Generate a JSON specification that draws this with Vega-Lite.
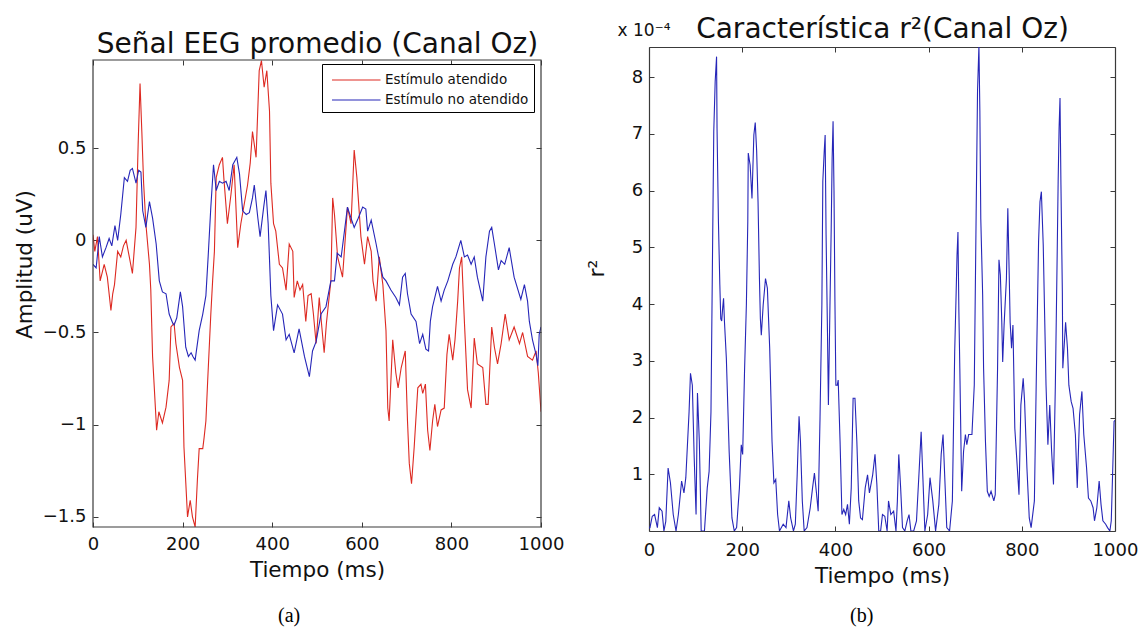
{
  "$schema": "https://vega.github.io/schema/vega-lite/v6.json",
  "background": "white",
  "padding": {"left": 14, "top": 15, "right": 5, "bottom": 5},
  "spacing": 21,
  "bounds": "full",
  "datasets": {
    "rojo": [
      {"t":0,"v":0.03},{"t":4,"v":-0.06},{"t":10,"v":0.02},{"t":16,"v":-0.22},{"t":25,"v":-0.13},{"t":32,"v":-0.2},{"t":40,"v":-0.38},{"t":44,"v":-0.29},{"t":48,"v":-0.24},{"t":55,"v":-0.06},{"t":62,"v":-0.09},{"t":68,"v":-0.03},{"t":74,"v":0.0},{"t":81,"v":-0.09},{"t":88,"v":-0.18},{"t":96,"v":0.07},{"t":101,"v":0.54},{"t":105,"v":0.85},{"t":109,"v":0.59},{"t":113,"v":0.31},{"t":118,"v":0.09},{"t":126,"v":-0.13},{"t":129,"v":-0.27},{"t":133,"v":-0.63},{"t":142,"v":-1.03},{"t":147,"v":-0.93},{"t":155,"v":-0.99},{"t":163,"v":-0.905},{"t":170,"v":-0.76},{"t":174,"v":-0.47},{"t":181,"v":-0.45},{"t":185,"v":-0.56},{"t":193,"v":-0.69},{"t":200,"v":-0.76},{"t":203,"v":-1.12},{"t":211,"v":-1.5},{"t":217,"v":-1.41},{"t":222,"v":-1.5},{"t":228,"v":-1.555},{"t":233,"v":-1.3},{"t":237,"v":-1.13},{"t":245,"v":-1.13},{"t":248,"v":-1.07},{"t":252,"v":-0.98},{"t":256,"v":-0.76},{"t":263,"v":-0.4},{"t":267,"v":-0.22},{"t":271,"v":-0.06},{"t":275,"v":0.34},{"t":282,"v":0.41},{"t":289,"v":0.45},{"t":292,"v":0.34},{"t":300,"v":0.09},{"t":308,"v":0.25},{"t":315,"v":0.41},{"t":323,"v":-0.04},{"t":330,"v":0.09},{"t":345,"v":0.3},{"t":351,"v":0.42},{"t":356,"v":0.59},{"t":364,"v":0.45},{"t":371,"v":0.92},{"t":376,"v":0.975},{"t":382,"v":0.83},{"t":388,"v":0.92},{"t":394,"v":0.7},{"t":397,"v":0.31},{"t":403,"v":0.09},{"t":408,"v":0.05},{"t":416,"v":-0.13},{"t":423,"v":-0.15},{"t":431,"v":-0.27},{"t":438,"v":-0.02},{"t":446,"v":-0.06},{"t":449,"v":-0.31},{"t":456,"v":-0.22},{"t":462,"v":-0.27},{"t":468,"v":-0.24},{"t":475,"v":-0.44},{"t":480,"v":-0.3},{"t":487,"v":-0.29},{"t":492,"v":-0.4},{"t":498,"v":-0.56},{"t":505,"v":-0.31},{"t":510,"v":-0.45},{"t":516,"v":-0.61},{"t":521,"v":-0.45},{"t":527,"v":-0.31},{"t":531,"v":-0.22},{"t":535,"v":0.23},{"t":539,"v":0.14},{"t":546,"v":-0.09},{"t":557,"v":-0.2},{"t":568,"v":0.18},{"t":576,"v":0.09},{"t":583,"v":0.49},{"t":589,"v":0.34},{"t":598,"v":0.02},{"t":606,"v":-0.13},{"t":613,"v":0.02},{"t":621,"v":-0.06},{"t":625,"v":-0.22},{"t":632,"v":-0.33},{"t":639,"v":-0.09},{"t":647,"v":-0.24},{"t":654,"v":-0.49},{"t":658,"v":-0.91},{"t":661,"v":-0.98},{"t":669,"v":-0.54},{"t":676,"v":-0.72},{"t":681,"v":-0.8},{"t":688,"v":-0.69},{"t":697,"v":-0.6},{"t":702,"v":-0.98},{"t":706,"v":-1.21},{"t":711,"v":-1.32},{"t":717,"v":-1.12},{"t":725,"v":-0.8},{"t":732,"v":-0.78},{"t":736,"v":-0.83},{"t":742,"v":-0.78},{"t":747,"v":-1.03},{"t":752,"v":-1.14},{"t":758,"v":-0.98},{"t":763,"v":-0.89},{"t":769,"v":-1.01},{"t":777,"v":-0.92},{"t":784,"v":-0.91},{"t":790,"v":-0.62},{"t":795,"v":-0.51},{"t":803,"v":-0.65},{"t":808,"v":-0.54},{"t":814,"v":-0.33},{"t":818,"v":-0.15},{"t":823,"v":-0.09},{"t":829,"v":-0.44},{"t":836,"v":-0.81},{"t":844,"v":-0.91},{"t":851,"v":-0.53},{"t":858,"v":-0.67},{"t":870,"v":-0.69},{"t":877,"v":-0.89},{"t":882,"v":-0.89},{"t":890,"v":-0.47},{"t":896,"v":-0.58},{"t":903,"v":-0.67},{"t":911,"v":-0.56},{"t":920,"v":-0.4},{"t":929,"v":-0.54},{"t":940,"v":-0.47},{"t":952,"v":-0.56},{"t":959,"v":-0.5},{"t":970,"v":-0.63},{"t":981,"v":-0.65},{"t":989,"v":-0.6},{"t":994,"v":-0.72},{"t":1000,"v":-0.93}
    ],
    "azul": [
      {"t":0,"v":-0.13},{"t":7,"v":-0.15},{"t":14,"v":0.02},{"t":21,"v":-0.09},{"t":29,"v":-0.04},{"t":36,"v":0.01},{"t":42,"v":-0.03},{"t":49,"v":0.08},{"t":55,"v":0.0},{"t":62,"v":0.14},{"t":70,"v":0.34},{"t":77,"v":0.32},{"t":83,"v":0.38},{"t":88,"v":0.39},{"t":96,"v":0.31},{"t":102,"v":0.38},{"t":107,"v":0.37},{"t":111,"v":0.16},{"t":118,"v":0.07},{"t":126,"v":0.21},{"t":133,"v":0.12},{"t":141,"v":-0.02},{"t":148,"v":-0.22},{"t":155,"v":-0.28},{"t":163,"v":-0.29},{"t":170,"v":-0.4},{"t":178,"v":-0.45},{"t":181,"v":-0.46},{"t":187,"v":-0.42},{"t":195,"v":-0.28},{"t":200,"v":-0.36},{"t":207,"v":-0.58},{"t":213,"v":-0.63},{"t":219,"v":-0.61},{"t":223,"v":-0.63},{"t":228,"v":-0.65},{"t":237,"v":-0.49},{"t":245,"v":-0.4},{"t":252,"v":-0.3},{"t":257,"v":-0.09},{"t":263,"v":0.18},{"t":269,"v":0.41},{"t":275,"v":0.27},{"t":282,"v":0.32},{"t":289,"v":0.31},{"t":297,"v":0.32},{"t":304,"v":0.27},{"t":312,"v":0.41},{"t":321,"v":0.45},{"t":327,"v":0.36},{"t":334,"v":0.16},{"t":342,"v":0.14},{"t":349,"v":0.15},{"t":356,"v":0.23},{"t":360,"v":0.3},{"t":368,"v":0.12},{"t":373,"v":0.02},{"t":381,"v":0.18},{"t":386,"v":0.27},{"t":391,"v":0.09},{"t":397,"v":-0.3},{"t":403,"v":-0.49},{"t":412,"v":-0.35},{"t":423,"v":-0.4},{"t":431,"v":-0.54},{"t":438,"v":-0.51},{"t":449,"v":-0.61},{"t":460,"v":-0.48},{"t":472,"v":-0.63},{"t":483,"v":-0.74},{"t":490,"v":-0.6},{"t":498,"v":-0.55},{"t":509,"v":-0.4},{"t":520,"v":-0.36},{"t":531,"v":-0.22},{"t":539,"v":-0.22},{"t":545,"v":-0.07},{"t":554,"v":-0.09},{"t":568,"v":0.18},{"t":576,"v":0.12},{"t":583,"v":0.07},{"t":592,"v":0.12},{"t":602,"v":0.18},{"t":609,"v":0.17},{"t":613,"v":0.05},{"t":621,"v":0.11},{"t":632,"v":-0.02},{"t":639,"v":-0.11},{"t":647,"v":-0.2},{"t":654,"v":-0.22},{"t":665,"v":-0.27},{"t":676,"v":-0.31},{"t":684,"v":-0.35},{"t":691,"v":-0.2},{"t":697,"v":-0.18},{"t":702,"v":-0.29},{"t":710,"v":-0.4},{"t":721,"v":-0.44},{"t":729,"v":-0.56},{"t":736,"v":-0.51},{"t":743,"v":-0.59},{"t":749,"v":-0.6},{"t":753,"v":-0.44},{"t":758,"v":-0.36},{"t":769,"v":-0.25},{"t":777,"v":-0.33},{"t":784,"v":-0.27},{"t":792,"v":-0.22},{"t":803,"v":-0.13},{"t":810,"v":-0.09},{"t":821,"v":0.0},{"t":829,"v":-0.09},{"t":836,"v":-0.08},{"t":844,"v":-0.13},{"t":851,"v":-0.09},{"t":858,"v":-0.2},{"t":870,"v":-0.33},{"t":877,"v":-0.09},{"t":885,"v":0.05},{"t":890,"v":0.07},{"t":896,"v":-0.02},{"t":905,"v":-0.16},{"t":911,"v":-0.11},{"t":919,"v":-0.13},{"t":929,"v":-0.04},{"t":940,"v":-0.2},{"t":955,"v":-0.32},{"t":963,"v":-0.24},{"t":970,"v":-0.33},{"t":974,"v":-0.44},{"t":981,"v":-0.54},{"t":989,"v":-0.62},{"t":993,"v":-0.68},{"t":996,"v":-0.51},{"t":1000,"v":-0.47}
    ],
    "r2": [
      {"t":0,"v":0.05},{"t":2,"v":0.06},{"t":7,"v":0.26},{"t":12,"v":0.29},{"t":18,"v":0.06},{"t":22,"v":0.41},{"t":28,"v":0.35},{"t":32,"v":0},{"t":36,"v":0.17},{"t":41,"v":1.11},{"t":46,"v":0.85},{"t":52,"v":0.29},{"t":58,"v":0},{"t":63,"v":0.29},{"t":70,"v":0.88},{"t":75,"v":0.67},{"t":79,"v":0.94},{"t":86,"v":2.1},{"t":89,"v":2.78},{"t":93,"v":2.57},{"t":97,"v":1.29},{"t":101,"v":0.29},{"t":104,"v":2.43},{"t":108,"v":1.58},{"t":112,"v":0},{"t":119,"v":0},{"t":125,"v":0.76},{"t":129,"v":1.05},{"t":133,"v":2.1},{"t":136,"v":4.63},{"t":139,"v":7.04},{"t":142,"v":7.92},{"t":145,"v":8.36},{"t":146,"v":7.1},{"t":149,"v":5.45},{"t":152,"v":4.34},{"t":154,"v":3.74},{"t":156,"v":3.7},{"t":158,"v":3.92},{"t":160,"v":4.1},{"t":162,"v":3.68},{"t":166,"v":3.04},{"t":172,"v":1.4},{"t":178,"v":0.23},{"t":183,"v":0},{"t":188,"v":0.06},{"t":194,"v":0.76},{"t":198,"v":1.52},{"t":201,"v":1.35},{"t":205,"v":2.81},{"t":209,"v":4.0},{"t":212,"v":5.45},{"t":213,"v":6.66},{"t":217,"v":6.45},{"t":221,"v":5.86},{"t":225,"v":6.98},{"t":228,"v":7.2},{"t":231,"v":6.7},{"t":234,"v":5.8},{"t":237,"v":4.45},{"t":239,"v":3.74},{"t":241,"v":3.45},{"t":245,"v":3.98},{"t":250,"v":4.45},{"t":254,"v":4.28},{"t":259,"v":3.22},{"t":264,"v":1.58},{"t":268,"v":0.85},{"t":272,"v":0.91},{"t":276,"v":0.29},{"t":280,"v":0},{"t":288,"v":0.12},{"t":294,"v":0.06},{"t":300,"v":0.53},{"t":304,"v":0.23},{"t":310,"v":0},{"t":314,"v":0.12},{"t":318,"v":0.99},{"t":322,"v":2.02},{"t":325,"v":1.58},{"t":329,"v":0.53},{"t":333,"v":0},{"t":339,"v":0.06},{"t":346,"v":0.41},{"t":351,"v":0.76},{"t":355,"v":1.02},{"t":359,"v":0.7},{"t":363,"v":0.35},{"t":367,"v":1.99},{"t":371,"v":4.0},{"t":373,"v":6.16},{"t":376,"v":6.69},{"t":378,"v":6.98},{"t":380,"v":5.22},{"t":383,"v":3.5},{"t":385,"v":2.22},{"t":388,"v":3.8},{"t":391,"v":5.33},{"t":393,"v":6.57},{"t":395,"v":7.22},{"t":397,"v":6.0},{"t":399,"v":4.04},{"t":401,"v":2.57},{"t":404,"v":2.57},{"t":406,"v":2.66},{"t":410,"v":1.58},{"t":414,"v":0.29},{"t":418,"v":0.38},{"t":422,"v":0.29},{"t":426,"v":0.47},{"t":430,"v":0.12},{"t":434,"v":0.76},{"t":438,"v":2.34},{"t":442,"v":2.34},{"t":446,"v":1.58},{"t":450,"v":0.53},{"t":454,"v":0.23},{"t":458,"v":0.2},{"t":464,"v":0.76},{"t":469,"v":0.99},{"t":473,"v":0.67},{"t":480,"v":0.99},{"t":485,"v":1.35},{"t":489,"v":0.82},{"t":493,"v":0},{"t":497,"v":0},{"t":501,"v":0.29},{"t":506,"v":0.26},{"t":511,"v":0},{"t":514,"v":0.53},{"t":519,"v":0.29},{"t":525,"v":0.35},{"t":530,"v":0},{"t":533,"v":0.53},{"t":536,"v":1.35},{"t":540,"v":0.76},{"t":544,"v":0.06},{"t":549,"v":0},{"t":554,"v":0.18},{"t":558,"v":0.29},{"t":562,"v":0},{"t":568,"v":0},{"t":574,"v":0.18},{"t":580,"v":1.11},{"t":584,"v":1.75},{"t":588,"v":0.88},{"t":592,"v":0},{"t":598,"v":0.29},{"t":603,"v":0.94},{"t":609,"v":0.53},{"t":615,"v":0},{"t":622,"v":0.47},{"t":627,"v":1.35},{"t":631,"v":1.7},{"t":635,"v":0.88},{"t":639,"v":0.06},{"t":645,"v":0},{"t":651,"v":0.53},{"t":656,"v":3.16},{"t":659,"v":4.16},{"t":661,"v":4.86},{"t":663,"v":5.27},{"t":665,"v":3.86},{"t":667,"v":2.87},{"t":671,"v":0.7},{"t":675,"v":1.4},{"t":679,"v":1.7},{"t":682,"v":1.52},{"t":686,"v":1.7},{"t":693,"v":1.7},{"t":698,"v":2.57},{"t":702,"v":5.57},{"t":705,"v":7.75},{"t":708,"v":8.55},{"t":710,"v":7.4},{"t":712,"v":5.5},{"t":716,"v":4.16},{"t":718,"v":2.87},{"t":722,"v":1.58},{"t":726,"v":0.7},{"t":730,"v":0.61},{"t":734,"v":0.7},{"t":740,"v":0.53},{"t":743,"v":0.64},{"t":748,"v":2.87},{"t":751,"v":4.78},{"t":754,"v":4.51},{"t":757,"v":3.7},{"t":759,"v":2.98},{"t":762,"v":3.63},{"t":767,"v":4.45},{"t":770,"v":5.69},{"t":773,"v":4.51},{"t":775,"v":3.68},{"t":778,"v":3.22},{"t":781,"v":3.63},{"t":785,"v":1.81},{"t":789,"v":1.29},{"t":794,"v":0.64},{"t":798,"v":2.22},{"t":803,"v":2.69},{"t":806,"v":2.28},{"t":811,"v":1.11},{"t":816,"v":0.23},{"t":820,"v":0.06},{"t":827,"v":0.53},{"t":832,"v":3.16},{"t":836,"v":5.1},{"t":839,"v":5.8},{"t":842,"v":5.98},{"t":846,"v":5.04},{"t":849,"v":3.8},{"t":852,"v":2.57},{"t":856,"v":1.52},{"t":860,"v":2.22},{"t":864,"v":1.4},{"t":868,"v":0.82},{"t":872,"v":2.57},{"t":874,"v":3.74},{"t":876,"v":4.92},{"t":878,"v":6.16},{"t":880,"v":7.1},{"t":882,"v":7.63},{"t":884,"v":6.1},{"t":887,"v":4.22},{"t":888,"v":2.87},{"t":891,"v":3.27},{"t":894,"v":3.68},{"t":898,"v":3.22},{"t":901,"v":2.57},{"t":906,"v":2.28},{"t":910,"v":2.16},{"t":915,"v":1.7},{"t":919,"v":0.76},{"t":924,"v":2.05},{"t":929,"v":2.46},{"t":933,"v":1.7},{"t":939,"v":1.11},{"t":943,"v":0.58},{"t":948,"v":0.53},{"t":953,"v":0.41},{"t":956,"v":0.18},{"t":961,"v":0.41},{"t":966,"v":0.88},{"t":970,"v":0.47},{"t":974,"v":0.18},{"t":980,"v":0.12},{"t":984,"v":0.06},{"t":989,"v":0},{"t":992,"v":0.18},{"t":995,"v":1.05},{"t":998,"v":1.93},{"t":1000,"v":1.95}
    ],
    "escala": [{"t": 0, "v": 8.53, "etiqueta": "x 10⁻⁴"}],
    "marco": [{"t": 0}]
  },
  "hconcat": [
    {
      "width": 448,
      "height": 480,
      "title": {"text": "(a)", "orient": "bottom", "frame": "bounds", "anchor": "middle", "font": "Liberation Serif", "fontSize": 20, "fontWeight": "normal", "color": "#000000", "offset": 25},
      "layer": [
        {
          "data": {"name": "rojo"},
          "mark": {"type": "line", "strokeWidth": 1.1, "clip": true},
          "encoding": {
            "x": {"field": "t", "type": "quantitative", "scale": {"domain": [0, 1000], "nice": false},
                  "axis": {"orient": "bottom", "title": "Tiempo (ms)", "values": [0, 200, 400, 600, 800, 1000], "format": "d", "labelPadding": 13.6, "titlePadding": 5.4, "domain": false}},
            "y": {"field": "v", "type": "quantitative", "scale": {"domain": [-1.555, 1.0485], "nice": false, "zero": false},
                  "axis": {"orient": "left", "title": "Amplitud (uV)", "values": [-1.5, -1, -0.5, 0, 0.5], "format": "~g", "labelPadding": 12, "titlePadding": 6, "titleY": 217, "domain": false}},
            "color": {"datum": "Estímulo atendido", "type": "nominal",
                      "scale": {"domain": ["Estímulo atendido", "Estímulo no atendido"], "range": ["#dd2a22", "#2626b8"]},
                      "legend": {"orient": "none", "legendX": 229, "legendY": 17, "title": null}}
          }
        },
        {
          "data": {"name": "azul"},
          "mark": {"type": "line", "strokeWidth": 1.1, "clip": true},
          "encoding": {
            "x": {"field": "t", "type": "quantitative", "scale": {"domain": [0, 1000], "nice": false},
                  "axis": {"orient": "top", "offset": -13, "title": "Señal EEG promedio (Canal Oz)", "labels": false, "values": [0, 200, 400, 600, 800, 1000], "titleFontSize": 28, "titlePadding": 1, "domain": false}},
            "y": {"field": "v", "type": "quantitative", "scale": {"domain": [-1.555, 1.0485], "nice": false, "zero": false},
                  "axis": {"orient": "right", "title": null, "labels": false, "values": [-1.5, -1, -0.5, 0, 0.5], "domain": false}},
            "color": {"datum": "Estímulo no atendido", "type": "nominal"}
          }
        },
        {
          "data": {"name": "marco"},
          "mark": {"type": "rect", "filled": false, "stroke": "#3a3a3a", "strokeWidth": 1.2},
          "encoding": {
            "x": {"datum": 0, "type": "quantitative", "axis": null},
            "x2": {"datum": 1000},
            "y": {"datum": -1.555, "type": "quantitative", "axis": null},
            "y2": {"datum": 0.978}
          }
        }
      ],
      "resolve": {"axis": {"x": "independent", "y": "independent"}}
    },
    {
      "width": 466,
      "height": 484,
      "title": {"text": "(b)", "orient": "bottom", "frame": "bounds", "anchor": "middle", "font": "Liberation Serif", "fontSize": 20, "fontWeight": "normal", "color": "#000000", "offset": 19},
      "layer": [
        {
          "data": {"name": "r2"},
          "mark": {"type": "line", "strokeWidth": 1.1, "color": "#2626b8", "clip": true},
          "encoding": {
            "x": {"field": "t", "type": "quantitative", "scale": {"domain": [0, 1000], "nice": false},
                  "axis": {"orient": "bottom", "title": "Tiempo (ms)", "values": [0, 200, 400, 600, 800, 1000], "format": "d", "labelPadding": 15.6, "titlePadding": 5.4}},
            "y": {"field": "v", "type": "quantitative", "scale": {"domain": [0, 8.53], "nice": false, "zero": false},
                  "axis": {"orient": "left", "title": "r²", "titleFontSize": 22, "values": [1, 2, 3, 4, 5, 6, 7, 8], "format": "d", "labelPadding": 11.2, "titlePadding": 23, "titleY": 221}}
          }
        },
        {
          "data": {"name": "escala"},
          "mark": {"type": "text", "font": "DejaVu Sans", "fontSize": 17, "color": "#111111", "align": "center", "baseline": "alphabetic", "dx": -5, "dy": -11},
          "encoding": {
            "text": {"field": "etiqueta", "type": "nominal"},
            "x": {"field": "t", "type": "quantitative", "scale": {"domain": [0, 1000], "nice": false},
                  "axis": {"orient": "top", "title": "Característica r²(Canal Oz)", "labels": false, "values": [0, 200, 400, 600, 800, 1000], "titleFontSize": 28, "titlePadding": 3}},
            "y": {"field": "v", "type": "quantitative", "scale": {"domain": [0, 8.53], "nice": false, "zero": false},
                  "axis": {"orient": "right", "title": null, "labels": false, "values": [1, 2, 3, 4, 5, 6, 7, 8]}}
          }
        }
      ],
      "resolve": {"axis": {"x": "independent", "y": "independent"}}
    }
  ],
  "config": {
    "view": {"stroke": null},
    "font": "DejaVu Sans",
    "axis": {
      "grid": false,
      "domainColor": "#3a3a3a",
      "domainWidth": 1.2,
      "tickColor": "#3a3a3a",
      "tickWidth": 1,
      "tickSize": -5,
      "labelColor": "#111111",
      "titleColor": "#111111",
      "labelFont": "DejaVu Sans",
      "titleFont": "DejaVu Sans",
      "labelFontSize": 18,
      "titleFontSize": 21.5,
      "titleFontWeight": "normal",
      "labelFlush": false,
      "labelOverlap": false
    },
    "legend": {
      "strokeColor": "#000000",
      "fillColor": "#ffffff",
      "padding": 5,
      "rowPadding": 2,
      "symbolSize": 400,
      "symbolType": "M-0.6,0L4.25,0",
      "symbolStrokeWidth": 1.2,
      "labelOffset": 36,
      "labelFont": "DejaVu Sans",
      "labelFontSize": 13.5,
      "labelColor": "#111111",
      "labelLimit": 0,
      "cornerRadius": 0
    }
  }
}
